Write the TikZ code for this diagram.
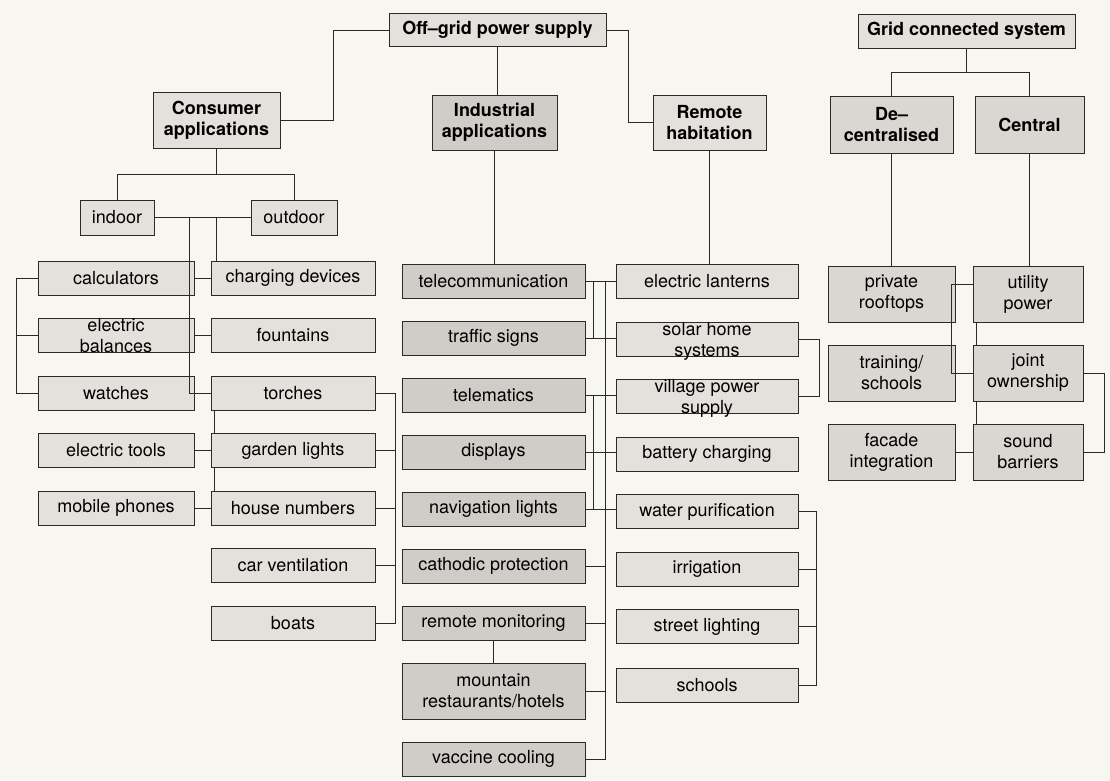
\documentclass[tikz,border=0pt]{standalone}
\usepackage{fontspec}
\setmainfont{TeX Gyre Heros}
\usetikzlibrary{positioning}
\definecolor{paper}{HTML}{F8F6F1}
\definecolor{boxlight}{HTML}{E4E1DC}
\definecolor{boxmid}{HTML}{DAD7D2}
\definecolor{boxdark}{HTML}{D0CDC8}
\definecolor{ink}{HTML}{2A2A2A}

\begin{document}
\begin{tikzpicture}[
    x=1pt, y=-1pt,
    node distance=22pt,
    head/.style={rectangle, draw=ink, line width=1pt, fill=boxlight, align=center, inner sep=0pt, font=\fontsize{18}{21}\selectfont\bfseries},
    leaf/.style={rectangle, draw=ink, line width=1pt, fill=boxlight, align=center, inner sep=0pt, minimum height=34pt, font=\fontsize{18}{21}\selectfont},
    leaftext/.style={align=center, inner sep=0pt, font=\fontsize{18}{21}\selectfont},
    indoorleaf/.style={leaf, minimum width=156pt},
    outdoorleaf/.style={leaf, minimum width=164pt},
    industryleaf/.style={leaf, fill=boxdark, minimum width=183pt},
    remoteleaf/.style={leaf, minimum width=182pt},
    gridleaf/.style={leaf, fill=boxmid, minimum height=56pt},
    wire/.style={draw=ink, line width=1pt}
]
% Paper
\fill[paper] (0,0) rectangle (1110,780);
% Top level
\node[head, minimum width=217pt, minimum height=33pt] (offgrid) at (497.5,30) {Off–grid power supply};
\node[head, minimum width=217pt, minimum height=34pt] (grid) at (966.5,31) {Grid connected system};
% Second level
\node[head, minimum width=127pt, minimum height=56pt] (consumer) at (216.5,120) {Consumer\\applications};
\node[head, fill=boxdark, minimum width=125pt, minimum height=55pt] (industrial) at (494.5,122.5) {Industrial\\applications};
\node[head, minimum width=113pt, minimum height=55pt] (remote) at (709.5,122.5) {Remote\\habitation};
\node[head, fill=boxmid, minimum width=123pt, minimum height=57pt] (decentral) at (891.5,124.5) {De–\\centralised};
\node[head, fill=boxmid, minimum width=109pt, minimum height=57pt] (central) at (1029.5,124.5) {Central};
% Indoor / outdoor
\node[leaf, minimum width=74pt, minimum height=35pt] (indoor) at (117,217.5) {indoor};
\node[leaf, minimum width=86pt, minimum height=35pt] (outdoor) at (294,217.5) {outdoor};
% Consumer, indoor column
\node[indoorleaf] (calculators) at (116,278) {calculators};
\node[indoorleaf, below=22.5pt of calculators] (balances) {};
\node[leaftext] (balances-text) at (balances) {electric\\balances};
\node[indoorleaf, below=22.5pt of balances] (watches) {watches};
\node[indoorleaf, below=22.5pt of watches] (tools) {electric tools};
\node[indoorleaf, below=22.5pt of tools] (phones) {mobile phones};
% Consumer, outdoor column
\node[outdoorleaf] (charging) at (293,278) {charging devices};
\node[outdoorleaf, below=22.5pt of charging] (fountains) {fountains};
\node[outdoorleaf, below=22.5pt of fountains] (torches) {torches};
\node[outdoorleaf, below=22.5pt of torches] (garden) {garden lights};
\node[outdoorleaf, below=22.5pt of garden] (housenumbers) {house numbers};
\node[outdoorleaf, below=22.5pt of housenumbers] (carvent) {car ventilation};
\node[outdoorleaf, below=22.5pt of carvent] (boats) {boats};
% Industrial column
\node[industryleaf] (telecom) at (493.5,281) {telecommunication};
\node[industryleaf, below=of telecom] (traffic) {traffic signs};
\node[industryleaf, below=of traffic] (telematics) {telematics};
\node[industryleaf, below=of telematics] (displays) {displays};
\node[industryleaf, below=of displays] (navlights) {navigation lights};
\node[industryleaf, below=of navlights] (cathodic) {cathodic protection};
\node[industryleaf, below=of cathodic] (monitoring) {remote monitoring};
\node[industryleaf, minimum height=56pt, below=of monitoring] (mountain) {mountain\\restaurants/hotels};
\node[industryleaf, below=of mountain] (vaccine) {vaccine cooling};
% Remote habitation column
\node[remoteleaf] (lanterns) at (707,281.5) {electric lanterns};
\node[remoteleaf, below=22.5pt of lanterns] (solar) {};
\node[leaftext] (solar-text) at ([yshift=-2pt]solar.center) {solar home\\systems};
\node[remoteleaf, below=22.5pt of solar] (village) {};
\node[leaftext] (village-text) at ([yshift=-2pt]village.center) {village power\\supply};
\node[remoteleaf, below=22.5pt of village] (battery) {battery charging};
\node[remoteleaf, below=22.5pt of battery] (water) {water purification};
\node[remoteleaf, below=22.5pt of water] (irrigation) {irrigation};
\node[remoteleaf, below=22.5pt of irrigation] (streetlight) {street lighting};
\node[remoteleaf, below=23.5pt of streetlight] (schools) {schools};
% Grid connected columns
\node[gridleaf, minimum width=127pt] (rooftops) at (891.5,294) {private\\rooftops};
\node[gridleaf, minimum width=127pt, below=of rooftops] (training) {training/\\schools};
\node[gridleaf, minimum width=127pt, below=of training] (facade) {facade\\integration};
\node[gridleaf, minimum width=110pt] (utility) at (1028,294) {utility\\power};
\node[gridleaf, minimum width=110pt, below=of utility] (joint) {joint\\ownership};
\node[gridleaf, minimum width=110pt, below=of joint] (sound) {sound\\barriers};
% Off-grid links
\draw[wire] (offgrid.west) -- ++(-55,0) |- (consumer.east);
\draw[wire] (offgrid.south) -- (offgrid.south |- industrial.north);
\draw[wire] (offgrid.east) -- ++(22,0) |- (remote.west);
% Consumer links
\draw[wire] (consumer.south) -- ++(0,26) coordinate (cbar);
\draw[wire] (indoor.north) |- (cbar) -| (outdoor.north);
\draw[wire] (indoor.east) -- coordinate[pos=0.36] (io1) coordinate[pos=0.65] (io2) (outdoor.west);
\draw[wire] (io1) |- (torches.west);
\draw[wire] (io2) -- (io2 |- charging.north);
\draw[wire] (calculators.west) -- ++(-21,0) |- (watches.west);
\draw[wire] (balances.west) -- ++(-21,0);
\foreach \a/\b in {calculators/charging, balances/fountains, tools/garden, phones/housenumbers}
  \draw[wire] (\a.east) -- (\b.west);
\draw[wire] ([xshift=4pt]torches.south west) -- ([xshift=4pt]garden.north west);
\draw[wire] ([xshift=4pt]garden.south west) -- ([xshift=4pt]housenumbers.north west);
\draw[wire] (torches.east) -- ++(20,0) coordinate (cr) |- (boats.east);
\foreach \n in {garden, housenumbers, carvent}
  \draw[wire] (\n.east) -- (\n.east -| cr);
% Industrial links
\draw[wire] (industrial.south) -- (industrial.south |- telecom.north);
\draw[wire] (telecom.east) -- coordinate[pos=0.26] (tc1) coordinate[pos=0.68] (tc2) (telecom.east -| lanterns.west);
\draw[wire] (tc1) |- (traffic.east);
\draw[wire] (traffic.east) -- (traffic.east -| solar.west);
\draw[wire] (tc2) |- (vaccine.east);
\foreach \n in {cathodic, monitoring, mountain}
  \draw[wire] (\n.east) -- (\n.east -| tc2);
\draw[wire] (telematics.east) -- coordinate[pos=0.26] (tm1) (telematics.east -| village.west);
\draw[wire] (tm1) |- (navlights.east);
\draw[wire] (displays.east) -- (displays.east -| battery.west);
\draw[wire] (navlights.east) -- (navlights.east -| water.west);
\draw[wire] (monitoring.south) -- (mountain.north);
% Remote habitation links
\draw[wire] (remote.south) -- (remote.south |- lanterns.north);
\draw[wire] (solar.east) -- ++(21,0) |- (village.east);
\draw[wire] (water.east) -- ++(18,0) coordinate (wr) |- (schools.east);
\foreach \n in {irrigation, streetlight}
  \draw[wire] (\n.east) -- (\n.east -| wr);
% Grid connected links
\draw[wire] (grid.south) -- ++(0,24) coordinate (gbar);
\draw[wire] (decentral.north) |- (gbar) -| (central.north);
\draw[wire] (decentral.south) -- (decentral.south |- rooftops.north);
\draw[wire] (central.south) -- (central.south |- utility.north);
\draw[wire] ([yshift=10pt]utility.west) -- ++(-21,0) |- (joint.west);
\draw[wire] ([xshift=4pt]utility.south west) -- ([xshift=4pt]joint.north west);
\draw[wire] ([xshift=4pt]joint.south west) -- ([xshift=4pt]sound.north west);
\draw[wire] (joint.east) -- ++(21,0) |- (sound.east);
\draw[wire] (facade.east) -- (sound.west);
\end{tikzpicture}
\end{document}
